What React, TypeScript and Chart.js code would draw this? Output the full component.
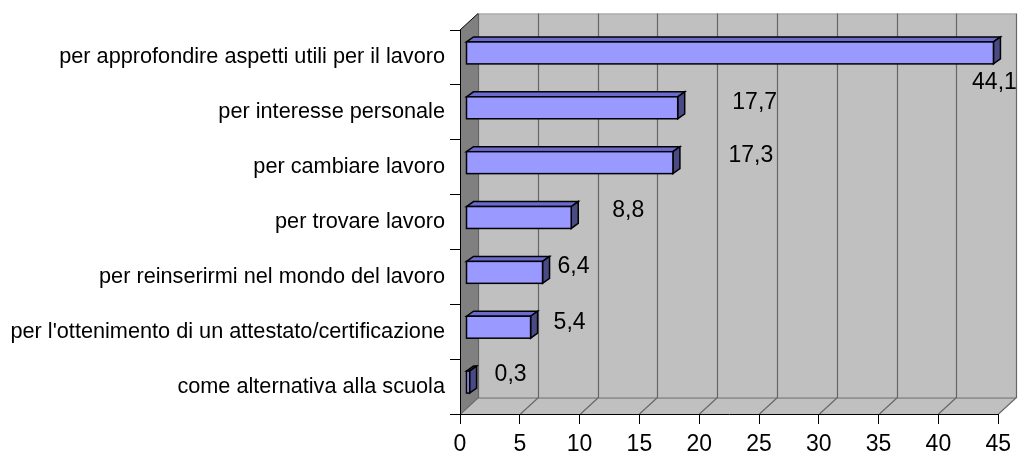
import React, { useEffect, useRef } from "react";
import { Chart, registerables } from "chart.js";

Chart.register(...registerables);

const categories = [
  "per approfondire aspetti utili per il lavoro",
  "per interesse personale",
  "per cambiare lavoro",
  "per trovare lavoro",
  "per reinserirmi nel mondo del lavoro",
  "per l'ottenimento di un attestato/certificazione",
  "come alternativa alla scuola",
];
const values = [44.1, 17.7, 17.3, 8.8, 6.4, 5.4, 0.3];
const xMin = 0;
const xMax = 45;
const xStep = 5;

// label placement (pixels, relative to the bar end / category centre)
const labelDx = [7, 83, 84, 63, 37, 45, 47];
const labelDy = [25, -10, -11, -11, -10, -9, -12];

const FONT = '"Liberation Sans", Arial, sans-serif';
const WALL_DX = 18;
const WALL_DY = 16.5;
const BAR_OX = 6;
const BAR_OY = -4.5;
const BAR_DX = 7;
const BAR_DY = 5;

const fmt = (v: number) => v.toFixed(1).replace(".", ",");

const excel3d = {
  id: "excel3d",
  beforeDraw(chart: any) {
    const { ctx, chartArea } = chart;
    const { left: L, right: R, top: T, bottom: B } = chartArea;
    const xs = chart.scales.x;
    ctx.save();
    ctx.fillStyle = "#c0c0c0";
    ctx.fillRect(L + WALL_DX, T - WALL_DY, R - L, B - T);
    ctx.beginPath();
    ctx.moveTo(L, B);
    ctx.lineTo(L + WALL_DX, B - WALL_DY);
    ctx.lineTo(R + WALL_DX, B - WALL_DY);
    ctx.lineTo(R, B);
    ctx.closePath();
    ctx.fillStyle = "#c0c0c0";
    ctx.fill();
    ctx.beginPath();
    ctx.moveTo(L, T);
    ctx.lineTo(L + WALL_DX, T - WALL_DY);
    ctx.lineTo(L + WALL_DX, B - WALL_DY);
    ctx.lineTo(L, B);
    ctx.closePath();
    ctx.fillStyle = "#808080";
    ctx.fill();
    ctx.strokeStyle = "#a0a0a0";
    ctx.lineWidth = 1;
    ctx.beginPath();
    ctx.moveTo(L + WALL_DX, T - WALL_DY + 0.5);
    ctx.lineTo(R + WALL_DX, T - WALL_DY + 0.5);
    ctx.stroke();
    ctx.strokeStyle = "#666666";
    ctx.lineWidth = 1.2;
    for (const t of xs.ticks) {
      const px = Math.round(xs.getPixelForValue(t.value)) + 0.5;
      ctx.beginPath();
      ctx.moveTo(px + WALL_DX, T - WALL_DY);
      ctx.lineTo(px + WALL_DX, B - WALL_DY);
      ctx.lineTo(px, B);
      ctx.stroke();
    }
    ctx.beginPath();
    ctx.moveTo(L + WALL_DX, B - WALL_DY + 0.5);
    ctx.lineTo(R + WALL_DX, B - WALL_DY + 0.5);
    ctx.stroke();
    ctx.strokeStyle = "#000";
    ctx.lineWidth = 1;
    ctx.beginPath();
    ctx.moveTo(L, T);
    ctx.lineTo(L + WALL_DX, T - WALL_DY);
    ctx.stroke();
    ctx.restore();
  },
  afterDatasetsDraw(chart: any) {
    const { ctx } = chart;
    const meta = chart.getDatasetMeta(0);
    const xs = chart.scales.x;
    ctx.save();
    ctx.lineWidth = 1.5;
    ctx.strokeStyle = "#000";
    ctx.lineJoin = "miter";
    meta.data.forEach((el: any) => {
      const { x, y, base, height } = el.getProps(["x", "y", "base", "height"], true);
      const x0 = base + BAR_OX;
      const x1 = x + BAR_OX;
      const y0 = y - height / 2 + BAR_OY;
      const y1 = y + height / 2 + BAR_OY;
      ctx.beginPath();
      ctx.moveTo(x0, y0);
      ctx.lineTo(x0 + BAR_DX, y0 - BAR_DY);
      ctx.lineTo(x1 + BAR_DX, y0 - BAR_DY);
      ctx.lineTo(x1, y0);
      ctx.closePath();
      ctx.fillStyle = "#6b6bcf";
      ctx.fill();
      ctx.stroke();
      ctx.beginPath();
      ctx.moveTo(x1, y0);
      ctx.lineTo(x1 + BAR_DX, y0 - BAR_DY);
      ctx.lineTo(x1 + BAR_DX, y1 - BAR_DY);
      ctx.lineTo(x1, y1);
      ctx.closePath();
      ctx.fillStyle = "#4a4a85";
      ctx.fill();
      ctx.stroke();
      ctx.fillStyle = "#9999ff";
      ctx.fillRect(x0, y0, x1 - x0, y1 - y0);
      ctx.strokeRect(x0, y0, x1 - x0, y1 - y0);
    });
    ctx.fillStyle = "#000";
    ctx.font = `23px ${FONT}`;
    ctx.textAlign = "center";
    ctx.textBaseline = "middle";
    meta.data.forEach((el: any, i: number) => {
      const v = values[i];
      const px = xs.getPixelForValue(v) + labelDx[i];
      const py = el.y + labelDy[i];
      ctx.fillText(fmt(v), px, py);
    });
    ctx.restore();
  },
};

export default function App() {
  const ref = useRef<HTMLCanvasElement | null>(null);
  useEffect(() => {
    const canvas = ref.current!;
    const chart = new Chart(canvas, {
      type: "bar",
      data: {
        labels: categories,
        datasets: [
          {
            data: values,
            backgroundColor: "rgba(0,0,0,0)",
            borderWidth: 0,
            barPercentage: 0.4,
            categoryPercentage: 1,
          },
        ],
      },
      options: {
        indexAxis: "y",
        responsive: false,
        animation: false,
        devicePixelRatio: 1,
        layout: { padding: { top: 30, right: 18, left: 0, bottom: 0 } },
        plugins: { legend: { display: false }, tooltip: { enabled: false } },
        scales: {
          x: {
            type: "linear",
            min: xMin,
            max: xMax,
            ticks: { stepSize: xStep, color: "#000", font: { family: FONT, size: 23 }, padding: 7 },
            grid: { drawOnChartArea: false, drawTicks: true, tickLength: 10, color: "#000" },
            border: { display: true, color: "#000" },
            afterFit: (s: any) => {
              s.height = 40;
            },
          },
          y: {
            type: "category",
            offset: true,
            ticks: { color: "#000", font: { family: FONT, size: 21.7 }, padding: 5 },
            grid: { offset: true, drawOnChartArea: false, drawTicks: true, tickLength: 10, color: "#000" },
            border: { display: true, color: "#000" },
            afterFit: (s: any) => {
              s.width = 460;
            },
          },
        },
      },
      plugins: [excel3d],
    });
    return () => chart.destroy();
  }, []);
  return (
    <div style={{ position: "absolute", left: 0, top: 0, width: 1018, height: 454, background: "#fff" }}>
      <canvas ref={ref} width={1018} height={454} />
    </div>
  );
}
